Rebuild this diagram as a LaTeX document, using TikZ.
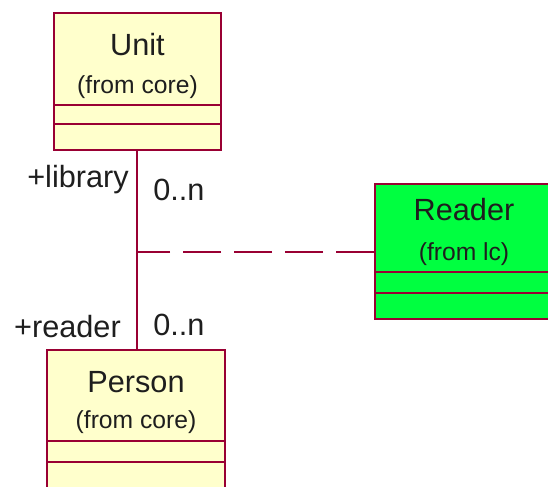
\documentclass[tikz,border=0pt]{standalone}
\usepackage{fontspec}
\setmainfont{Liberation Sans}
\usetikzlibrary{fit}
\definecolor{classfill}{RGB}{255,255,204}
\definecolor{readerfill}{RGB}{0,255,64}
\definecolor{umlline}{RGB}{153,0,51}
\definecolor{umltext}{RGB}{30,30,30}
\tikzset{
  classbox/.style={draw=umlline, line width=1.5pt, inner sep=0pt, rectangle},
  compline/.style={draw=umlline, line width=1.5pt},
  assoc/.style={draw=umlline, line width=1.5pt},
  linkline/.style={draw=umlline, line width=1.5pt, dash pattern=on 28.5pt off 9.75pt},
  bigtext/.style={text=umltext, inner sep=0pt, anchor=base, font=\fontsize{23}{27}\selectfont},
  smalltext/.style={text=umltext, inner sep=0pt, anchor=base, font=\fontsize{18.5}{22}\selectfont},
}
\begin{document}
\begin{tikzpicture}[x=0.75pt, y=-0.75pt]
\path[use as bounding box] (0,0) rectangle (548,486);
\clip (0,0) rectangle (548,486);

% class boxes
\node[classbox, fill=classfill, fit={(54,13) (221,150)}] (unit) {};
\node[classbox, fill=classfill, fit={(47,350) (225,520)}] (person) {};
\node[classbox, fill=readerfill, fit={(375,184) (570,319)}] (reader) {};

% compartments
\draw[compline] (54,105) -- (221,105);
\draw[compline] (54,124) -- (221,124);
\draw[compline] (47,441) -- (225,441);
\draw[compline] (47,462) -- (225,462);
\draw[compline] (375,272) -- (570,272);
\draw[compline] (375,293) -- (570,293);

% class names
\node[bigtext] (unitname) at (137.5,55) {Unit};
\node[smalltext] (unitpkg) at (137.5,93) {(from core)};
\node[bigtext] (personname) at (136,392) {Person};
\node[smalltext] (personpkg) at (136,428) {(from core)};
\node[bigtext] (readername) at (464,220) {Reader};
\node[smalltext] (readerpkg) at (464,260) {(from lc)};

% association between Unit and Person, with its association class
\coordinate (top) at (137,150);
\coordinate (bottom) at (137,350);
\coordinate (mid) at (137,252);
\draw[assoc] (top) -- (bottom);
\draw[linkline] (reader.west |- mid) -- (mid);

% role names and multiplicities
\node[bigtext, anchor=base east] (libraryrole) at (129,187) {+library};
\node[bigtext, anchor=base west] (librarymult) at (153,200) {0..n};
\node[bigtext, anchor=base east] (readerrole) at (121,337) {+reader};
\node[bigtext, anchor=base west] (readermult) at (153,335) {0..n};
\end{tikzpicture}
\end{document}
